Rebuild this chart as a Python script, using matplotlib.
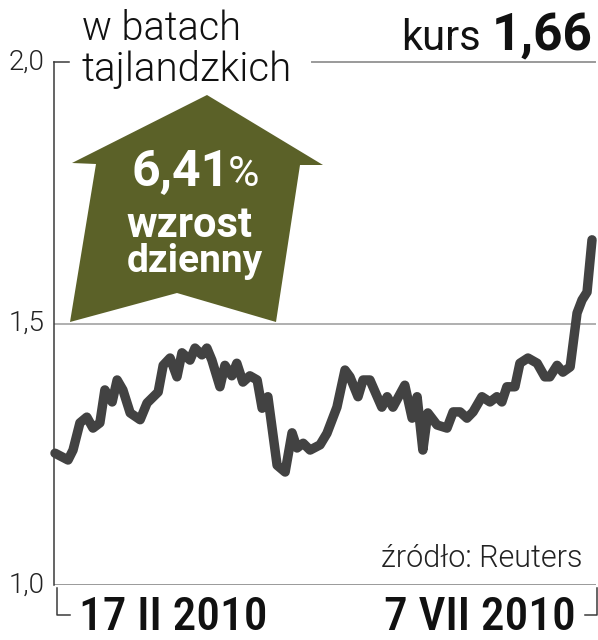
import matplotlib
matplotlib.use('Agg')
import matplotlib.pyplot as plt
from matplotlib.patches import Polygon
from matplotlib.lines import Line2D

# kurs bata tajlandzkiego, 17 II - 7 VII 2010 (dni od 17 II)
dni = [0, 3.4, 4.7, 6.5, 8.3, 9.9, 11.7, 13.0, 14.9, 16.2, 17.7, 19.6, 22.2, 24.0,
       26.9, 28.2, 30.0, 31.8, 33.1, 35.2, 36.5, 38.3, 39.6, 40.9, 43.0, 44.3, 46.1,
       47.4, 49.0, 50.8, 52.7, 54.0, 55.5, 57.9, 60.0, 61.8, 63.1, 64.7, 66.5, 69.1,
       70.9, 73.5, 75.6, 76.9, 79.0, 80.3, 82.1, 85.2, 86.6, 88.1, 91.2, 93.1, 94.4,
       95.9, 97.2, 99.6, 102.2, 103.8, 105.6, 107.4, 109.0, 111.3, 113.4, 115.2,
       116.5, 117.8, 119.9, 121.2, 123.3, 125.7, 127.7, 129.0, 130.9, 132.4, 134.3,
       136.1, 137.4, 138.7, 140.0]
kurs = [1.252, 1.239, 1.258, 1.31, 1.321, 1.30, 1.31, 1.373, 1.35, 1.392, 1.373, 1.329,
        1.316, 1.348, 1.369, 1.42, 1.434, 1.398, 1.444, 1.43, 1.453, 1.44, 1.453, 1.43,
        1.379, 1.42, 1.40, 1.424, 1.388, 1.40, 1.392, 1.338, 1.36, 1.229, 1.216, 1.291,
        1.262, 1.271, 1.258, 1.268, 1.29, 1.34, 1.411, 1.398, 1.36, 1.392, 1.392, 1.34,
        1.36, 1.34, 1.382, 1.319, 1.36, 1.258, 1.329, 1.306, 1.30, 1.331, 1.331, 1.319,
        1.331, 1.36, 1.35, 1.36, 1.35, 1.379, 1.379, 1.424, 1.434, 1.424, 1.398, 1.398,
        1.42, 1.407, 1.417, 1.52, 1.545, 1.56, 1.66]
yticks = [1.0, 1.5, 2.0]
ytick_labels = ['1,0', '1,5', '2,0']
daty = ['17 II 2010', '7 VII 2010']

W, H = 598, 640
def P(x, y):
    # piksele od lewego gornego rogu -> wspolrzedne figury
    return (x / W, 1 - y / H)

olive = '#5b6128'
linia = '#424242'
szary = '#9a9a9a'
ciemny = '#3a3a3a'

fig = plt.figure(figsize=(W / 100, H / 100), dpi=100)
ax = fig.add_axes([54 / W, 1 - 585 / H, (596 - 54) / W, (585 - 62) / H])
ax.set_xlim(-0.26, 141.04)
ax.set_ylim(1.0, 2.0)
for s in ['top', 'right', 'bottom']:
    ax.spines[s].set_visible(False)
ax.spines['left'].set_color(ciemny)
ax.spines['left'].set_linewidth(1.1)
ax.set_xticks([])
ax.set_yticks([])

ax.axhline(1.5, color=szary, lw=1.1, zorder=1)
ax.axhline(1.0, color=szary, lw=1.4, zorder=1)

ax.plot(dni, kurs, color=linia, lw=6.8, solid_joinstyle='round',
        solid_capstyle='round', clip_on=False, zorder=3)

for v, lab in zip(yticks, ytick_labels):
    ax.text(-0.018, v, lab, transform=ax.get_yaxis_transform(), ha='right', va='center',
            fontsize=20, family='Roboto', weight=300, color='#222222')

def fline(xs, ys, **kw):
    pts = [P(x, y) for x, y in zip(xs, ys)]
    fig.add_artist(Line2D([p[0] for p in pts], [p[1] for p in pts],
                          transform=fig.transFigure, **kw))

# znacznik 2,0 i linia pod "kurs"
fline([54, 69], [62, 62], color=ciemny, lw=1.1)
fline([312, 595], [62, 62], color=szary, lw=1.4)
# klamry pod osia
fline([57, 57, 70], [588, 615, 615], color=ciemny, lw=1.1)
fline([585, 597, 597], [615, 615, 588], color=ciemny, lw=1.1)

# strzalka
strz = [(207, 95), (323, 165), (300, 165), (276, 322), (177, 293), (70, 322),
        (96, 164), (72, 163)]
fig.add_artist(Polygon([P(x, y) for x, y in strz], closed=True, transform=fig.transFigure,
                       facecolor=olive, edgecolor='none', zorder=2))

fig.text(*P(230, 186), '6,41', ha='right', va='baseline', fontsize=36,
         family='Roboto', weight='bold', color='white', zorder=4)
fig.text(*P(228, 186), '%', ha='left', va='baseline', fontsize=31,
         family='Roboto', weight=400, color='white', zorder=4)
fig.text(*P(189, 237), 'wzrost', ha='center', va='baseline', fontsize=30,
         family='Roboto', weight='bold', color='white', zorder=4)
fig.text(*P(195, 272), 'dzienny', ha='center', va='baseline', fontsize=28,
         family='Roboto', weight='bold', color='white', zorder=4)

# tytul
fig.text(*P(82, 40), 'w batach', ha='left', va='baseline', fontsize=28.5,
         family='Roboto', weight=300, color='#111111')
fig.text(*P(82, 81), 'tajlandzkich', ha='left', va='baseline', fontsize=29,
         family='Roboto', weight=300, color='#111111')

fig.text(*P(481, 50), 'kurs', ha='right', va='baseline', fontsize=30,
         family='Roboto', weight=400, color='#111111')
fig.text(*P(593, 50), '1,66', ha='right', va='baseline', fontsize=37,
         family='Roboto', weight='bold', color='#111111')

fig.text(*P(582, 567), 'źródło: Reuters', ha='right', va='baseline', fontsize=22,
         family='Roboto', weight=300, color='#222222')

fig.text(*P(79, 630), daty[0], ha='left', va='baseline', fontsize=34,
         family='Roboto Condensed', weight=500, color='#111111')
fig.text(*P(576, 630), daty[1], ha='right', va='baseline', fontsize=34,
         family='Roboto Condensed', weight=500, color='#111111')

fig.savefig('out.png', dpi=100, facecolor='white')
